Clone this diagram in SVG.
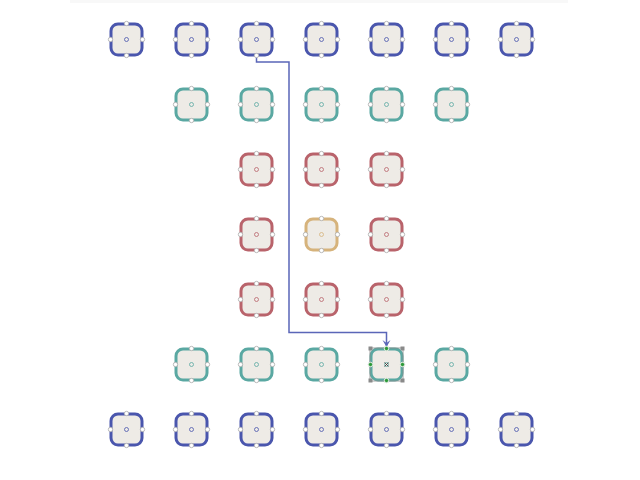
<svg xmlns="http://www.w3.org/2000/svg" xmlns:xlink="http://www.w3.org/1999/xlink" width="640" height="480" viewBox="0 0 640 480">
<style>
.blue{color:#4a56ad}
.teal{color:#5aa8a2}
.red{color:#b9636b}
.tan{color:#d6b37c}
.edge{fill:none;stroke:#5a66b8;stroke-width:1.5}
</style>
<defs>
<g id="nd">
<rect x="-15.5" y="-15.5" width="31" height="31" rx="7" fill="#eeebe6" stroke="currentColor" stroke-width="3"/>
<circle cx="0" cy="0" r="2" fill="none" stroke="currentColor" stroke-width="0.8"/>
<g fill="#fff" stroke="#aaa" stroke-width="0.8">
<circle cx="0" cy="-16" r="2.2"/><circle cx="16" cy="0" r="2.2"/><circle cx="0" cy="16" r="2.2"/><circle cx="-16" cy="0" r="2.2"/>
</g>
</g>
<marker id="arr" viewBox="0 0 10 10" refX="9" refY="5" markerWidth="10" markerHeight="10" markerUnits="userSpaceOnUse" orient="auto">
<path d="M2,1 L9,5 L2,9 L5,5 Z" fill="#5a66b8"/>
</marker>
</defs>
<rect x="70" y="0" width="498" height="3" fill="#f8f8f8"/>
<g id="connectors">
<path class="edge" d="M256.5,56 V62 H289 V332.5 H386.5 V347" marker-end="url(#arr)"/>
</g>
<g id="nodes">
<g id="n0-0" class="blue"><use href="#nd" x="126.5" y="39.5"/></g>
<g id="n0-1" class="blue"><use href="#nd" x="191.5" y="39.5"/></g>
<g id="n0-2" class="blue"><use href="#nd" x="256.5" y="39.5"/></g>
<g id="n0-3" class="blue"><use href="#nd" x="321.5" y="39.5"/></g>
<g id="n0-4" class="blue"><use href="#nd" x="386.5" y="39.5"/></g>
<g id="n0-5" class="blue"><use href="#nd" x="451.5" y="39.5"/></g>
<g id="n0-6" class="blue"><use href="#nd" x="516.5" y="39.5"/></g>
<g id="n1-1" class="teal"><use href="#nd" x="191.5" y="104.5"/></g>
<g id="n1-2" class="teal"><use href="#nd" x="256.5" y="104.5"/></g>
<g id="n1-3" class="teal"><use href="#nd" x="321.5" y="104.5"/></g>
<g id="n1-4" class="teal"><use href="#nd" x="386.5" y="104.5"/></g>
<g id="n1-5" class="teal"><use href="#nd" x="451.5" y="104.5"/></g>
<g id="n2-2" class="red"><use href="#nd" x="256.5" y="169.5"/></g>
<g id="n2-3" class="red"><use href="#nd" x="321.5" y="169.5"/></g>
<g id="n2-4" class="red"><use href="#nd" x="386.5" y="169.5"/></g>
<g id="n3-2" class="red"><use href="#nd" x="256.5" y="234.5"/></g>
<g id="n3-3" class="tan"><use href="#nd" x="321.5" y="234.5"/></g>
<g id="n3-4" class="red"><use href="#nd" x="386.5" y="234.5"/></g>
<g id="n4-2" class="red"><use href="#nd" x="256.5" y="299.5"/></g>
<g id="n4-3" class="red"><use href="#nd" x="321.5" y="299.5"/></g>
<g id="n4-4" class="red"><use href="#nd" x="386.5" y="299.5"/></g>
<g id="n5-1" class="teal"><use href="#nd" x="191.5" y="364.5"/></g>
<g id="n5-2" class="teal"><use href="#nd" x="256.5" y="364.5"/></g>
<g id="n5-3" class="teal"><use href="#nd" x="321.5" y="364.5"/></g>
<g id="n5-4" class="teal">
<use href="#nd" x="386.5" y="364.5"/>
<rect x="370" y="348" width="33" height="33" fill="none" stroke="#8a8a8a" stroke-width="0.8"/>
<g fill="#8a8a8a"><rect x="368.5" y="346.5" width="4" height="4"/><rect x="400.5" y="346.5" width="4" height="4"/><rect x="368.5" y="378.5" width="4" height="4"/><rect x="400.5" y="378.5" width="4" height="4"/></g>
<g fill="#2e9a3a" stroke="#fff" stroke-width="0.8"><circle cx="386.5" cy="348.5" r="2.2"/><circle cx="402.5" cy="364.5" r="2.2"/><circle cx="386.5" cy="380.5" r="2.2"/><circle cx="370.5" cy="364.5" r="2.2"/></g>
<path d="M384.5,362.5 L388.5,366.5 M388.5,362.5 L384.5,366.5" stroke="#444" stroke-width="0.9"/>
</g>
<g id="n5-5" class="teal"><use href="#nd" x="451.5" y="364.5"/></g>
<g id="n6-0" class="blue"><use href="#nd" x="126.5" y="429.5"/></g>
<g id="n6-1" class="blue"><use href="#nd" x="191.5" y="429.5"/></g>
<g id="n6-2" class="blue"><use href="#nd" x="256.5" y="429.5"/></g>
<g id="n6-3" class="blue"><use href="#nd" x="321.5" y="429.5"/></g>
<g id="n6-4" class="blue"><use href="#nd" x="386.5" y="429.5"/></g>
<g id="n6-5" class="blue"><use href="#nd" x="451.5" y="429.5"/></g>
<g id="n6-6" class="blue"><use href="#nd" x="516.5" y="429.5"/></g>
</g>
</svg>
